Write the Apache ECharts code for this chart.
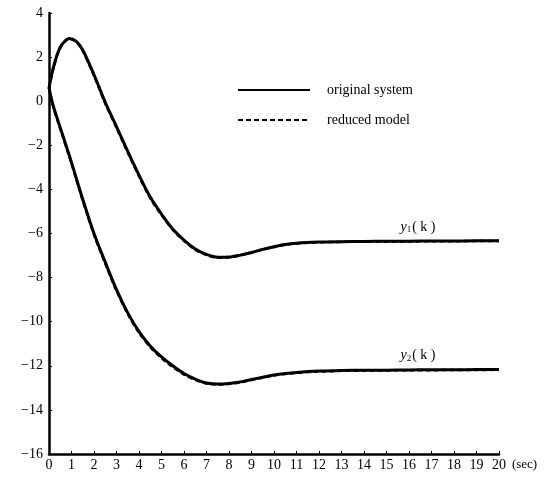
<!DOCTYPE html>
<html>
<head>
<meta charset="utf-8">
<script src="https://cdn.jsdelivr.net/npm/echarts@6/dist/echarts.min.js"></script>
<style>html,body{margin:0;padding:0;background:#fff;}#c{width:560px;height:477px;}</style>
</head>
<body>
<div id="c"></div>
<script>
var timeSec = [0,0.2,0.5,0.9,1.2,1.5,2,2.5,3,3.5,4,4.5,5,5.5,6,6.5,7,7.5,8,8.5,9,9.5,10,10.5,11,12,13,14,15,16,17,18,19,20];
var y1Original = [0.6,1.55,2.45,2.84,2.72,2.32,1.2,-0.05,-1.15,-2.28,-3.35,-4.35,-5.12,-5.8,-6.3,-6.7,-6.95,-7.08,-7.07,-6.98,-6.86,-6.72,-6.6,-6.5,-6.44,-6.39,-6.37,-6.36,-6.35,-6.35,-6.34,-6.34,-6.33,-6.33];
var y1Reduced  = [0.6,1.5,2.42,2.82,2.7,2.28,1.15,-0.1,-1.2,-2.33,-3.4,-4.4,-5.16,-5.83,-6.33,-6.73,-6.98,-7.1,-7.08,-6.99,-6.87,-6.73,-6.61,-6.51,-6.45,-6.4,-6.38,-6.37,-6.36,-6.36,-6.35,-6.35,-6.34,-6.34];
var y2Original = [0.6,-0.25,-1.2,-2.45,-3.45,-4.45,-6.0,-7.3,-8.55,-9.6,-10.45,-11.1,-11.6,-12.0,-12.35,-12.6,-12.78,-12.83,-12.8,-12.73,-12.62,-12.52,-12.42,-12.35,-12.3,-12.24,-12.21,-12.2,-12.2,-12.19,-12.18,-12.18,-12.17,-12.17];
var y2Reduced  = [0.6,-0.3,-1.25,-2.5,-3.5,-4.5,-6.05,-7.36,-8.6,-9.65,-10.5,-11.15,-11.65,-12.05,-12.4,-12.64,-12.8,-12.85,-12.82,-12.75,-12.64,-12.54,-12.44,-12.37,-12.32,-12.26,-12.23,-12.22,-12.21,-12.2,-12.2,-12.19,-12.19,-12.18];
var xTicks = [0,1,2,3,4,5,6,7,8,9,10,11,12,13,14,15,16,17,18,19,20];
var yTicks = [4,2,0,-2,-4,-6,-8,-10,-12,-14,-16];
var legendNames = ['original system','reduced model'];
var curveLabels = [{sub:'1', t:16.4, v:-6.34},{sub:'2', t:16.4, v:-12.18}];

function pairs(xs, ys){ return xs.map(function(x,i){return [x, ys[i]];}); }
var FONT = 'Liberation Serif';

var chart = echarts.init(document.getElementById('c'));
function curveLabel(cl){
  return {
    symbol: 'rect', symbolSize: 1, silent: true,
    itemStyle: {color: 'rgba(0,0,0,0)'},
    data: [{coord:[cl.t, cl.v],
      label:{show:true, position:'top', distance:6, formatter:'{i|y}{s|'+cl.sub+'}{n|( k )}',
        rich:{i:{fontFamily:FONT,fontStyle:'italic',fontSize:14,color:'#000'},
              s:{fontFamily:FONT,fontSize:9,color:'#000',padding:[6,1,0,0]},
              n:{fontFamily:FONT,fontSize:14,color:'#000'}}}}]
  };
}
chart.setOption({
  animation: false,
  backgroundColor: '#fff',
  grid: {left: 49, right: 61, top: 13, bottom: 23, containLabel: false},
  legend: {
    orient: 'vertical', left: 232, top: 78, itemWidth: 72, itemHeight: 10, itemGap: 16,
    data: legendNames,
    itemStyle: {opacity: 0},
    textStyle: {fontFamily: FONT, fontSize: 14, color: '#000', padding:[0,0,0,12]}
  },
  xAxis: {
    type: 'value', min: 0, max: 20, interval: 1,
    name: '(sec)', nameLocation: 'end', nameGap: 8,
    nameTextStyle: {fontFamily: FONT, fontSize: 13, color: '#000', verticalAlign:'top', padding:[4,0,0,0]},
    axisLine: {onZero: false, lineStyle: {color: '#000', width: 2.5}},
    axisTick: {inside: true, length: 3, lineStyle: {color:'#000', width:1}},
    splitLine: {show: false},
    axisLabel: {fontFamily: FONT, fontSize: 14, color: '#000', margin: 4,
      customValues: xTicks, formatter: function(v){return String(v);}}
  },
  yAxis: {
    type: 'value', min: -16, max: 4, interval: 2,
    axisLine: {onZero: false, lineStyle: {color: '#000', width: 2.5}},
    axisTick: {inside: true, length: 3, lineStyle: {color:'#000', width:1}},
    splitLine: {show: false},
    axisLabel: {fontFamily: FONT, fontSize: 14, color: '#000', margin: 6,
      formatter: function(v){return v < 0 ? '\u2212' + Math.abs(v) : String(v);}}
  },
  series: [
    {name: legendNames[0], type: 'line', smooth: 0.3, symbol: 'none', data: pairs(timeSec, y1Original),
     lineStyle: {color: '#000', width: 3, type: 'solid'}, itemStyle:{color:'#000'}, z: 3,
     markPoint: curveLabel(curveLabels[0])},
    {name: legendNames[0], type: 'line', smooth: 0.3, symbol: 'none', data: pairs(timeSec, y2Original),
     lineStyle: {color: '#000', width: 3, type: 'solid'}, itemStyle:{color:'#000'}, z: 3,
     markPoint: curveLabel(curveLabels[1])},
    {name: legendNames[1], type: 'line', smooth: 0.3, symbol: 'none', data: pairs(timeSec, y1Reduced),
     lineStyle: {color: '#000', width: 2.5, type: [5,3]}, itemStyle:{color:'#000'}, z: 2},
    {name: legendNames[1], type: 'line', smooth: 0.3, symbol: 'none', data: pairs(timeSec, y2Reduced),
     lineStyle: {color: '#000', width: 2.5, type: [5,3]}, itemStyle:{color:'#000'}, z: 2}
  ]
});
</script>
</body>
</html>
